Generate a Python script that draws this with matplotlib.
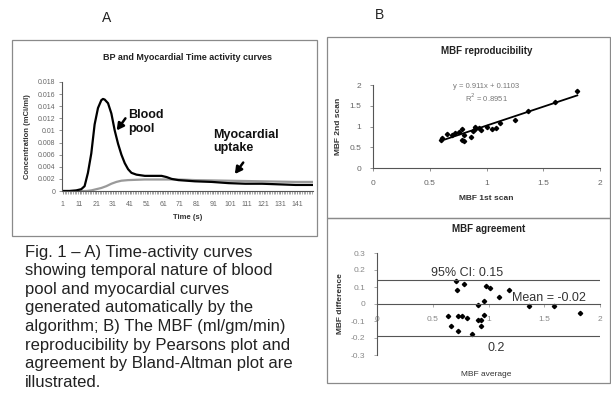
import matplotlib
matplotlib.use('Agg')
import matplotlib.pyplot as plt
from matplotlib.patches import Rectangle

plt.rcParams['font.family'] = ['Liberation Sans', 'DejaVu Sans']

# --- panel A: time activity curves ---
bp_time = [1, 5, 9, 12, 14, 16, 18, 20, 22, 24, 25, 26, 28, 30, 32, 34, 36, 38, 40, 42,
           45, 50, 55, 60, 63, 66, 70, 80, 90, 100, 110, 120, 130, 140, 150]
bp_conc = [0, 0, 0.0001, 0.0003, 0.0008, 0.0030, 0.0062, 0.0110, 0.0137, 0.0150, 0.0152,
           0.0151, 0.0145, 0.0128, 0.0100, 0.0078, 0.0060, 0.0046, 0.0036, 0.0030,
           0.0027, 0.0025, 0.0025, 0.0025, 0.0023, 0.0020, 0.0018, 0.0016, 0.0015,
           0.0013, 0.0012, 0.0012, 0.0011, 0.0010, 0.0010]
myo_time = [1, 15, 18, 21, 24, 27, 30, 33, 36, 40, 50, 60, 70, 80, 100, 120, 140, 150]
myo_conc = [0, 0, 0.0001, 0.0003, 0.0005, 0.0008, 0.0012, 0.0015, 0.0017, 0.0018, 0.0019,
            0.0019, 0.0019, 0.0018, 0.0017, 0.0016, 0.0015, 0.0015]
a_yticks = [0, 0.002, 0.004, 0.006, 0.008, 0.01, 0.012, 0.014, 0.016, 0.018]
a_ylabels = ['0', '0.002', '0.004', '0.006', '0.008', '0.01', '0.012', '0.014', '0.016', '0.018']
a_xticks = [1, 11, 21, 31, 41, 51, 61, 71, 81, 91, 101, 111, 121, 131, 141]

# --- panel B: reproducibility (1st vs 2nd scan) ---
scan1 = [0.60, 0.61, 0.65, 0.70, 0.72, 0.76, 0.78, 0.80, 0.78, 0.80, 0.86, 0.88, 0.90,
         0.90, 0.93, 0.95, 1.00, 1.05, 1.08, 1.12, 1.25, 1.37, 1.60, 1.80]
scan2 = [0.68, 0.73, 0.82, 0.80, 0.84, 0.86, 0.68, 0.65, 0.93, 0.80, 0.75, 0.90, 1.00,
         0.95, 0.97, 0.92, 1.00, 0.95, 0.97, 1.08, 1.15, 1.38, 1.60, 1.85]
slope, intercept, r2 = 0.911, 0.1103, 0.8951
b_ticks = [0, 0.5, 1, 1.5, 2]
b_ticklabels = ['0', '0.5', '1', '1.5', '2']

# --- panel B: Bland-Altman agreement ---
mbf_avg = [0.71, 0.72, 0.78, 0.64, 0.66, 0.73, 0.76, 0.73, 0.81, 0.85, 0.91, 0.91, 0.93,
           0.93, 0.96, 0.96, 0.98, 1.01, 1.09, 1.18, 1.36, 1.59, 1.82]
mbf_diff = [0.138, 0.085, 0.117, -0.073, -0.128, -0.073, -0.073, -0.158, -0.081, -0.178,
            -0.006, -0.095, -0.095, -0.13, 0.016, -0.066, 0.105, 0.095, 0.04, 0.085,
            -0.014, -0.014, -0.053]
mean_diff = -0.02
ci_half = 0.15
upper_lim, lower_lim = 0.14, -0.19
ba_yticks = [-0.3, -0.2, -0.1, 0, 0.1, 0.2, 0.3]
ba_ylabels = ['-0.3', '-0.2', '-0.1', '0', '0.1', '0.2', '0.3']

caption = ['Fig. 1 \u2013 A) Time-activity curves',
           'showing temporal nature of blood',
           'pool and myocardial curves',
           'generated automatically by the',
           'algorithm; B) The MBF (ml/gm/min)',
           'reproducibility by Pearsons plot and',
           'agreement by Bland-Altman plot are',
           'illustrated.']

W, H = 611, 398
fig = plt.figure(figsize=(W / 100, H / 100), dpi=100)


def px_axes(x0, y0, x1, y1):
    # pixel box (top-left origin) -> figure axes
    return fig.add_axes([x0 / W, 1 - y1 / H, (x1 - x0) / W, (y1 - y0) / H])


def px_box(x0, y0, x1, y1):
    fig.patches.append(Rectangle((x0 / W, 1 - y1 / H), (x1 - x0) / W, (y1 - y0) / H,
                                 transform=fig.transFigure, fill=False,
                                 edgecolor='#8a8a8a', lw=0.9))


axis_col = '#555555'
tick_col = '#666666'
arrow_kw = dict(arrowstyle='-|>,head_width=0.22,head_length=0.4', color='black', lw=1.8,
                shrinkA=0, shrinkB=0, mutation_scale=10)

px_box(12, 40, 317, 236)
px_box(327, 37, 610, 218)
px_box(327, 218, 610, 383)

fig.text(107 / W, 1 - 18 / H, 'A', fontsize=10, ha='center', va='center', color='#222222')
fig.text(380 / W, 1 - 15 / H, 'B', fontsize=10, ha='center', va='center', color='#222222')

# ---------------- panel A ----------------
ax = px_axes(62, 82, 313, 191)
ax.plot(myo_time, myo_conc, color='#9a9a9a', lw=1.6)
ax.plot(bp_time, bp_conc, color='black', lw=1.6)
ax.set_xlim(0.5, 150.5)
ax.set_ylim(0, 0.018)
ax.set_yticks(a_yticks)
ax.set_yticklabels(a_ylabels)
ax.set_xticks(a_xticks)
ax.set_xticks(range(1, 151), minor=True)
for s in ['top', 'right']:
    ax.spines[s].set_visible(False)
for s in ['left', 'bottom']:
    ax.spines[s].set_color(axis_col)
    ax.spines[s].set_linewidth(0.8)
ax.tick_params(axis='both', labelsize=5, colors=tick_col, length=2.5, width=0.5, pad=2)
ax.tick_params(axis='x', which='minor', length=2.5, width=0.4, color=tick_col)
ax.tick_params(axis='x', pad=5)
ax.set_xlabel('Time (s)', fontsize=5.5, fontweight='bold', color='#333333', labelpad=4)
ax.set_ylabel('Concentration (mCi/ml)', fontsize=5.5, fontweight='bold', color='#333333',
              labelpad=5)
ax.set_title('BP and Myocardial Time activity curves', fontsize=6.5, fontweight='bold',
             color='#222222', pad=16)
ax.text(40, 0.0114, 'Blood\npool', fontsize=9, fontweight='bold', ha='left', va='center',
        linespacing=1.15, color='#111111')
ax.annotate('', xy=(33.2, 0.0100), xytext=(38.4, 0.0120), arrowprops=arrow_kw)
ax.text(91, 0.0082, 'Myocardial\nuptake', fontsize=9, fontweight='bold', ha='left',
        va='center', linespacing=1.15, color='#111111')
ax.annotate('', xy=(103.8, 0.0028), xytext=(108.8, 0.0047), arrowprops=arrow_kw)

# ---------------- panel B top: reproducibility ----------------
bx = px_axes(373, 85, 600, 168)
bx.plot(scan1, scan2, 'D', color='black', markersize=2.2)
fit_x = [min(scan1), max(scan1)]
bx.plot(fit_x, [slope * v + intercept for v in fit_x], color='black', lw=1.3)
bx.set_xlim(0, 2)
bx.set_ylim(0, 2)
bx.set_xticks(b_ticks)
bx.set_xticklabels(b_ticklabels)
bx.set_yticks(b_ticks)
bx.set_yticklabels(b_ticklabels)
for s in ['top', 'right']:
    bx.spines[s].set_visible(False)
for s in ['left', 'bottom']:
    bx.spines[s].set_color(axis_col)
    bx.spines[s].set_linewidth(0.8)
bx.tick_params(labelsize=6, colors=tick_col, length=2.5, width=0.5, pad=6)
bx.set_xlabel('MBF 1st scan', fontsize=6, fontweight='bold', color='#333333', labelpad=6)
bx.set_ylabel('MBF 2nd scan', fontsize=6, fontweight='bold', color='#333333', labelpad=5)
bx.set_title('MBF reproducibility', fontsize=7, fontweight='bold', color='#222222', pad=22)
bx.text(1.0, 1.96, f'y = {slope}x + {intercept}', fontsize=5.5, color='#777777',
        ha='center', va='center')
bx.text(1.0, 1.68, f'R$^2$ = {r2}', fontsize=5.5, color='#777777', ha='center', va='center')

# ---------------- panel B bottom: Bland-Altman ----------------
cx = px_axes(377, 253, 600, 355)
cx.plot(mbf_avg, mbf_diff, 'D', color='black', markersize=2.2)
cx.axhline(upper_lim, color='#555555', lw=0.8)
cx.axhline(lower_lim, color='#555555', lw=0.8)
cx.set_xlim(0, 2)
cx.set_ylim(-0.3, 0.3)
cx.set_xticks(b_ticks)
cx.set_xticklabels(b_ticklabels)
cx.set_yticks(ba_yticks)
cx.set_yticklabels(ba_ylabels)
cx.spines['top'].set_visible(False)
cx.spines['right'].set_visible(False)
cx.spines['bottom'].set_position(('data', 0))
for s in ['left', 'bottom']:
    cx.spines[s].set_color(axis_col)
    cx.spines[s].set_linewidth(0.8)
cx.tick_params(labelsize=6, colors='#888888', length=2.5, width=0.5, pad=6)
cx.set_xlabel('MBF average', fontsize=6, color='#333333', labelpad=6)
cx.xaxis.set_label_coords(0.49, -0.16)
cx.set_ylabel('MBF difference', fontsize=6, fontweight='bold', color='#333333', labelpad=5)
cx.set_title('MBF agreement', fontsize=7, fontweight='bold', color='#222222', pad=15)
cx.text(0.81, upper_lim + 0.005, f'95% CI: {ci_half}', fontsize=9, color='#333333',
        ha='center', va='bottom')
cx.text(1.21, 0.0, f'Mean = {mean_diff}', fontsize=9, color='#333333', ha='left',
        va='bottom')
cx.text(1.07, lower_lim - 0.035, '0.2', fontsize=9, color='#333333', ha='center',
        va='top')

# ---------------- caption ----------------
for i, line in enumerate(caption):
    fig.text(25 / W, 1 - (256.7 + i * 18.57) / H, line, fontsize=12, color='#222222',
             ha='left', va='baseline')

fig.savefig('out.png', dpi=100)
